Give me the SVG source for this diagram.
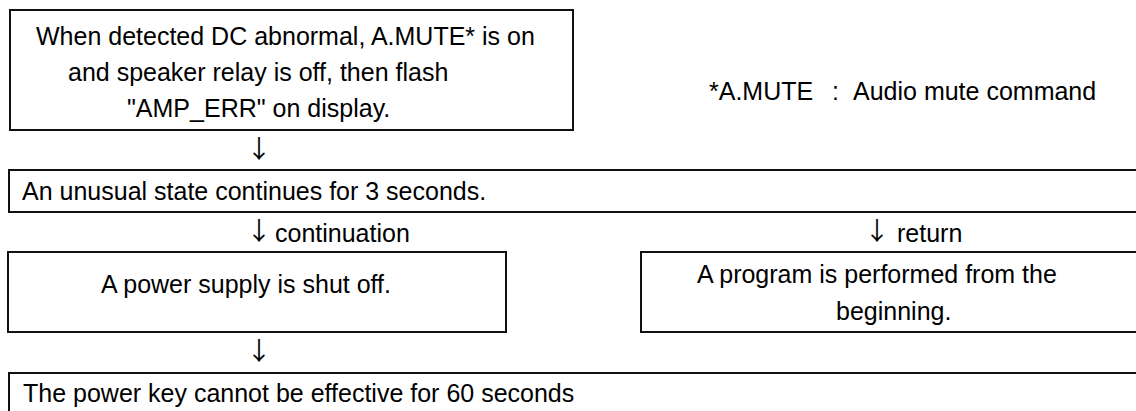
<svg xmlns="http://www.w3.org/2000/svg" width="1136" height="411" viewBox="0 0 1136 411">
<style>
  .box { fill: #fff; stroke: #111; stroke-width: 2; }
  text { font-family: "Liberation Sans", Arial, sans-serif; font-size: 25px; fill: #000; }
  .arrow { font-family: "Noto Sans CJK JP", "DejaVu Sans", sans-serif; font-size: 25px; text-anchor: middle; }
</style>
<rect x="0" y="0" width="1136" height="411" fill="#fff"/>
<g id="node-detect">
  <rect class="box" x="10" y="10" width="563" height="120"/>
  <text x="36" y="45">When detected DC abnormal, A.MUTE* is on</text>
  <text x="68" y="81">and speaker relay is off, then flash</text>
  <text x="127" y="117">"AMP_ERR" on display.</text>
</g>
<g id="note">
  <text x="709" y="100">*A.MUTE</text>
  <text x="832" y="100">:</text>
  <text x="853" y="100">Audio mute command</text>
</g>
<g id="node-unusual">
  <rect class="box" x="9" y="170" width="1140" height="42"/>
  <text x="22" y="200">An unusual state continues for 3 seconds.</text>
</g>
<g id="node-shutoff">
  <rect class="box" x="8" y="252" width="498" height="80"/>
  <text x="101" y="293">A power supply is shut off.</text>
</g>
<g id="node-restart">
  <rect class="box" x="641" y="252" width="510" height="80"/>
  <text x="697" y="283">A program is performed from the</text>
  <text x="836" y="320">beginning.</text>
</g>
<g id="node-powerkey">
  <rect class="box" x="9" y="373" width="1140" height="60"/>
  <text x="23" y="402">The power key cannot be effective for 60 seconds</text>
</g>
<g id="connectors">
  <text class="arrow" x="259" y="158">↓</text>
  <text class="arrow" x="259" y="240">↓</text>
  <text x="275" y="242">continuation</text>
  <text class="arrow" x="877" y="240">↓</text>
  <text x="897" y="242">return</text>
  <text class="arrow" x="259" y="360">↓</text>
</g>
</svg>
